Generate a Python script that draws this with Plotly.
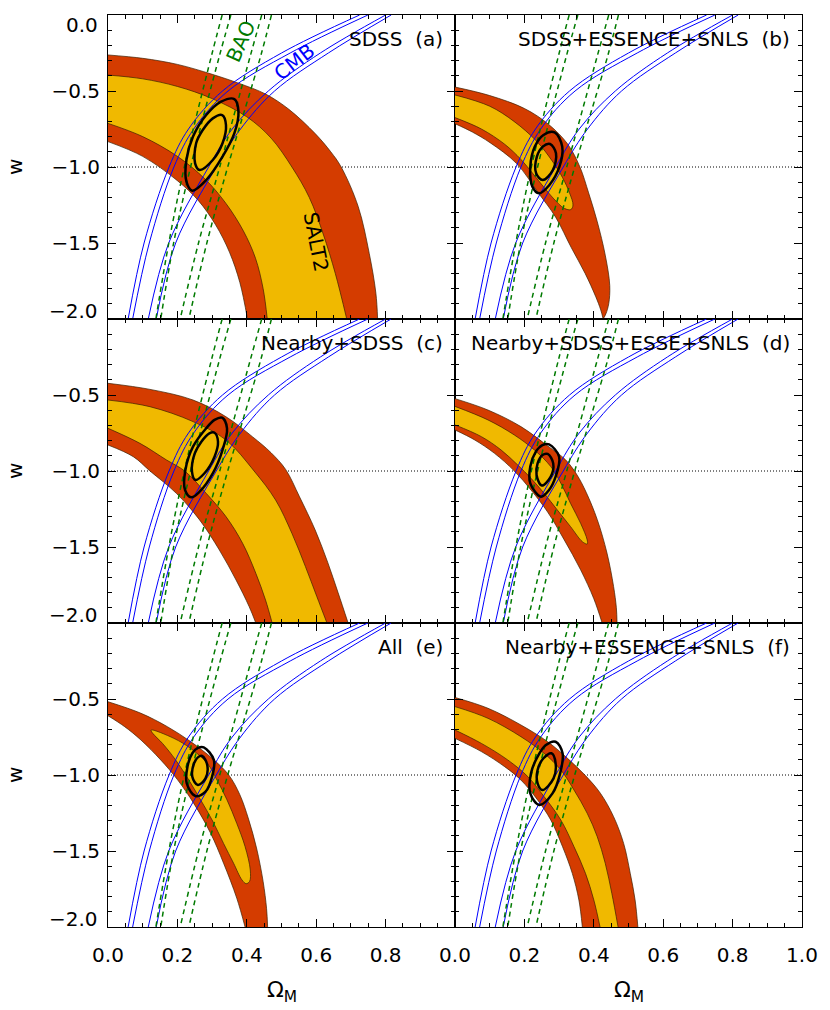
import plotly.graph_objects as go
from plotly.subplots import make_subplots

# colours and font
RED = '#d43c00'
YELLOW = '#f0b900'
EDGE = '#3c1e00'
CMB_COLOR = '#0000ff'
BAO_COLOR = '#007a00'
FONT = 'DejaVu Sans'

# ================================================================================
# CMB (blue) and BAO (green dashed) contour edges, identical in all panels
# points are (Omega_M, w)
CMB_1 = [(0.058, -2.00), (0.104, -1.50), (0.176, -1.00), (0.232, -0.75), (0.330, -0.50), (0.500, -0.25), (0.725, 0.00)]
CMB_2 = [(0.071, -2.00), (0.119, -1.50), (0.190, -1.00), (0.247, -0.75), (0.346, -0.50), (0.525, -0.25), (0.749, 0.00)]
CMB_3 = [(0.116, -2.00), (0.175, -1.50), (0.290, -1.00), (0.358, -0.75), (0.462, -0.50), (0.612, -0.25), (0.800, 0.00)]
CMB_4 = [(0.139, -2.00), (0.195, -1.50), (0.312, -1.00), (0.382, -0.75), (0.480, -0.50), (0.635, -0.25), (0.816, 0.00)]

BAO_1 = [(0.329, 0.00), (0.298, -0.27), (0.220, -1.00), (0.176, -1.49), (0.138, -2.00)]
BAO_2 = [(0.354, 0.00), (0.321, -0.27), (0.238, -1.00), (0.190, -1.49), (0.152, -2.00)]
BAO_3 = [(0.443, 0.00), (0.410, -0.27), (0.322, -1.00), (0.262, -1.49), (0.208, -2.00)]
BAO_4 = [(0.471, 0.00), (0.440, -0.27), (0.345, -1.00), (0.286, -1.49), (0.233, -2.00)]

# ================================================================================
# (a) SDSS
A_RED_HI = [(0.000, -0.263), (0.100, -0.285), (0.200, -0.325), (0.300, -0.390), (0.378, -0.450), (0.454, -0.520),
            (0.521, -0.620), (0.597, -0.780), (0.642, -0.900), (0.672, -1.000), (0.721, -1.260), (0.753, -1.570),
            (0.772, -1.830), (0.777, -2.000)]
A_RED_LO = [(0.000, -0.833), (0.100, -0.930), (0.200, -1.090), (0.260, -1.220), (0.310, -1.380), (0.350, -1.560),
            (0.380, -1.760), (0.402, -2.000)]
A_YEL_HI = [(0.000, -0.395), (0.100, -0.420), (0.200, -0.470), (0.300, -0.550), (0.400, -0.670), (0.470, -0.810),
            (0.530, -1.000), (0.580, -1.200), (0.620, -1.440), (0.655, -1.700), (0.688, -2.000)]
A_YEL_LO = [(0.000, -0.713), (0.100, -0.800), (0.200, -0.930), (0.280, -1.080), (0.340, -1.240), (0.390, -1.420),
            (0.425, -1.600), (0.447, -1.800), (0.459, -2.000)]
A_ELL_2S = [(0.364, -0.553), (0.376, -0.636), (0.364, -0.779), (0.330, -0.932), (0.283, -1.086), (0.243, -1.156),
            (0.226, -1.096), (0.226, -0.954), (0.245, -0.800), (0.283, -0.658), (0.326, -0.570)]
A_ELL_1S = [(0.329, -0.658), (0.340, -0.724), (0.330, -0.844), (0.302, -0.954), (0.264, -1.020), (0.251, -0.976),
            (0.254, -0.844), (0.273, -0.757), (0.302, -0.680)]

# (b) SDSS+ESSENCE+SNLS
B_RED_HI = [(0.000, -0.474), (0.100, -0.530), (0.200, -0.615), (0.270, -0.720), (0.325, -0.850), (0.360, -1.000),
            (0.385, -1.170), (0.410, -1.360), (0.433, -1.580), (0.446, -1.780), (0.443, -1.900), (0.435, -1.965),
            (0.427, -2.000)]
B_RED_LO = [(0.000, -0.715), (0.050, -0.770), (0.101, -0.840), (0.177, -0.976), (0.240, -1.170), (0.290, -1.330),
            (0.335, -1.530), (0.375, -1.700), (0.405, -1.850), (0.420, -1.940), (0.427, -2.000)]
B_YEL = [(0.000, -0.526), (0.100, -0.600), (0.170, -0.700), (0.235, -0.830), (0.280, -0.960), (0.310, -1.070),
         (0.330, -1.170), (0.340, -1.250), (0.334, -1.280), (0.315, -1.272), (0.285, -1.210), (0.255, -1.130),
         (0.225, -1.045), (0.190, -0.950), (0.143, -0.850), (0.076, -0.750), (0.000, -0.675)]
B_ELL_2S = [(0.287, -0.772), (0.309, -0.866), (0.301, -0.998), (0.272, -1.118), (0.242, -1.173), (0.223, -1.129),
            (0.217, -0.998), (0.230, -0.866), (0.255, -0.789)]
B_ELL_1S = [(0.274, -0.849), (0.291, -0.910), (0.282, -1.020), (0.253, -1.086), (0.234, -1.042), (0.236, -0.932),
            (0.253, -0.866)]

# (c) Nearby+SDSS
C_RED_HI = [(0.000, -0.423), (0.121, -0.463), (0.245, -0.533), (0.340, -0.643), (0.416, -0.774), (0.470, -0.880),
            (0.512, -0.990), (0.552, -1.170), (0.597, -1.388), (0.633, -1.600), (0.663, -1.800), (0.692, -2.000)]
C_RED_LO = [(0.000, -0.829), (0.073, -0.906), (0.121, -1.000), (0.197, -1.147), (0.264, -1.322), (0.321, -1.520),
            (0.369, -1.717), (0.407, -1.893), (0.426, -2.000)]
C_YEL_HI = [(0.000, -0.533), (0.121, -0.577), (0.245, -0.675), (0.340, -0.796), (0.421, -1.000), (0.483, -1.191),
            (0.530, -1.410), (0.569, -1.629), (0.602, -1.827), (0.631, -2.000)]
C_YEL_LO = [(0.000, -0.719), (0.092, -0.818), (0.169, -0.928), (0.221, -1.000), (0.283, -1.147), (0.340, -1.300),
            (0.388, -1.476), (0.426, -1.673), (0.454, -1.849), (0.473, -2.000)]
C_ELL_2S = [(0.329, -0.649), (0.343, -0.719), (0.330, -0.862), (0.302, -1.015), (0.264, -1.136), (0.240, -1.173),
            (0.222, -1.125), (0.223, -0.993), (0.245, -0.840), (0.283, -0.719), (0.307, -0.664)]
C_ELL_1S = [(0.307, -0.748), (0.317, -0.807), (0.307, -0.906), (0.278, -1.015), (0.252, -1.059), (0.242, -1.004),
            (0.250, -0.884), (0.269, -0.807), (0.292, -0.752)]

# (d) Nearby+SDSS+ESSE+SNLS
D_RED_HI = [(0.000, -0.524), (0.095, -0.599), (0.190, -0.708), (0.267, -0.835), (0.318, -0.925), (0.350, -1.020),
            (0.378, -1.140), (0.410, -1.320), (0.438, -1.540), (0.457, -1.760), (0.465, -1.900), (0.467, -2.000)]
D_RED_LO = [(0.000, -0.730), (0.057, -0.796), (0.114, -0.884), (0.171, -1.000), (0.219, -1.125), (0.267, -1.270),
            (0.314, -1.450), (0.362, -1.650), (0.400, -1.840), (0.424, -2.000)]
D_YEL = [(0.000, -0.575), (0.095, -0.664), (0.171, -0.763), (0.229, -0.862), (0.276, -0.971), (0.305, -1.080),
         (0.333, -1.213), (0.362, -1.344), (0.381, -1.454), (0.381, -1.480), (0.367, -1.465), (0.333, -1.366),
         (0.295, -1.257), (0.257, -1.147), (0.219, -1.048), (0.181, -0.961), (0.133, -0.862), (0.076, -0.774),
         (0.000, -0.697)]
D_ELL_2S = [(0.271, -0.825), (0.300, -0.906), (0.290, -1.037), (0.271, -1.125), (0.248, -1.169), (0.217, -1.081),
            (0.217, -0.971), (0.233, -0.873), (0.252, -0.829)]
D_ELL_1S = [(0.267, -0.888), (0.283, -0.950), (0.276, -1.037), (0.250, -1.096), (0.235, -1.026), (0.238, -0.950),
            (0.252, -0.895)]

# (e) All
E_RED_HI = [(0.000, -0.518), (0.095, -0.594), (0.171, -0.682), (0.238, -0.780), (0.300, -0.890), (0.348, -1.000),
            (0.380, -1.130), (0.405, -1.290), (0.428, -1.480), (0.447, -1.700), (0.457, -1.880), (0.460, -2.000)]
E_RED_LO = [(0.000, -0.610), (0.048, -0.682), (0.095, -0.770), (0.152, -0.901), (0.200, -1.030), (0.248, -1.190),
            (0.295, -1.380), (0.333, -1.580), (0.371, -1.810), (0.395, -2.000)]
E_YEL = [(0.124, -0.704), (0.190, -0.759), (0.238, -0.825), (0.286, -0.923), (0.314, -1.033), (0.343, -1.164),
         (0.371, -1.318), (0.395, -1.471), (0.410, -1.625), (0.408, -1.700), (0.398, -1.715), (0.386, -1.690),
         (0.362, -1.581), (0.333, -1.450), (0.300, -1.296), (0.267, -1.164), (0.233, -1.033), (0.195, -0.901),
         (0.157, -0.792), (0.129, -0.726), (0.124, -0.704)]
E_ELL_2S = [(0.276, -0.818), (0.305, -0.901), (0.300, -1.011), (0.281, -1.110), (0.252, -1.138), (0.227, -1.055),
            (0.229, -0.945), (0.243, -0.857), (0.259, -0.822)]
E_ELL_1S = [(0.271, -0.875), (0.286, -0.934), (0.281, -1.022), (0.259, -1.066), (0.243, -1.011), (0.248, -0.923),
            (0.259, -0.884)]

# (f) Nearby+ESSENCE+SNLS
F_RED_HI = [(0.000, -0.490), (0.095, -0.561), (0.190, -0.671), (0.267, -0.781), (0.324, -0.890), (0.376, -1.004),
            (0.419, -1.120), (0.457, -1.274), (0.486, -1.450), (0.505, -1.647), (0.519, -1.822), (0.527, -2.000)]
F_RED_LO = [(0.000, -0.759), (0.076, -0.846), (0.143, -0.945), (0.190, -1.033), (0.238, -1.164), (0.276, -1.296),
            (0.310, -1.472), (0.338, -1.647), (0.357, -1.822), (0.367, -2.000)]
F_YEL_HI = [(0.000, -0.550), (0.095, -0.627), (0.190, -0.748), (0.257, -0.858), (0.305, -0.967), (0.343, -1.099),
            (0.381, -1.252), (0.410, -1.406), (0.433, -1.581), (0.452, -1.779), (0.470, -2.000)]
F_YEL_LO = [(0.000, -0.704), (0.076, -0.792), (0.152, -0.901), (0.210, -1.011), (0.257, -1.143), (0.305, -1.296),
            (0.343, -1.472), (0.376, -1.647), (0.400, -1.822), (0.418, -2.000)]
F_ELL_2S = [(0.290, -0.781), (0.310, -0.857), (0.303, -0.989), (0.281, -1.121), (0.243, -1.197), (0.217, -1.121),
            (0.219, -0.989), (0.238, -0.879), (0.262, -0.803)]
F_ELL_1S = [(0.278, -0.857), (0.290, -0.923), (0.284, -1.022), (0.252, -1.099), (0.238, -1.055), (0.238, -0.967),
            (0.255, -0.890)]

# panel layout: row, col, sample name, letter, red band, yellow region, ellipses
PANELS = [
    (1, 1, 'SDSS', 'a', (A_RED_HI, A_RED_LO), (A_YEL_HI, A_YEL_LO), (A_ELL_2S, A_ELL_1S)),
    (1, 2, 'SDSS+ESSENCE+SNLS', 'b', (B_RED_HI, B_RED_LO), B_YEL, (B_ELL_2S, B_ELL_1S)),
    (2, 1, 'Nearby+SDSS', 'c', (C_RED_HI, C_RED_LO), (C_YEL_HI, C_YEL_LO), (C_ELL_2S, C_ELL_1S)),
    (2, 2, 'Nearby+SDSS+ESSE+SNLS', 'd', (D_RED_HI, D_RED_LO), D_YEL, (D_ELL_2S, D_ELL_1S)),
    (3, 1, 'All', 'e', (E_RED_HI, E_RED_LO), E_YEL, (E_ELL_2S, E_ELL_1S)),
    (3, 2, 'Nearby+ESSENCE+SNLS', 'f', (F_RED_HI, F_RED_LO), (F_YEL_HI, F_YEL_LO), (F_ELL_2S, F_ELL_1S)),
]

X_TICKS = [0.0, 0.2, 0.4, 0.6, 0.8, 1.0]
Y_TICKS = [-2.0, -1.5, -1.0, -0.5, 0.0]


# ================================================================================
def add_curve(fig, pts, row, col, color, width, dash=None, fill=None, fillcolor=None):
    fig.add_scatter(x=[p[0] for p in pts], y=[p[1] for p in pts], mode='lines',
                    line=dict(color=color, width=width, dash=dash, shape='spline', smoothing=1),
                    fill=fill, fillcolor=fillcolor, hoverinfo='skip', showlegend=False,
                    row=row, col=col)


def add_region(fig, region, color, row, col):
    # a (upper, lower) pair is filled between the two edges, a single list is filled on itself
    if isinstance(region, tuple):
        hi, lo = region
        add_curve(fig, lo, row, col, EDGE, 0.7)
        add_curve(fig, hi, row, col, EDGE, 0.7, fill='tonexty', fillcolor=color)
    else:
        add_curve(fig, region, row, col, EDGE, 0.7, fill='toself', fillcolor=color)


fig = make_subplots(rows=3, cols=2, horizontal_spacing=0, vertical_spacing=0)

for row, col, name, letter, red, yellow, ells in PANELS:
    add_region(fig, red, RED, row, col)
    add_region(fig, yellow, YELLOW, row, col)

    fig.add_hline(y=-1.0, line=dict(color='black', width=1, dash='1px,2px'), layer='below', row=row, col=col)

    for cmb in (CMB_1, CMB_2, CMB_3, CMB_4):
        add_curve(fig, cmb, row, col, CMB_COLOR, 1)
    for bao in (BAO_1, BAO_2, BAO_3, BAO_4):
        add_curve(fig, bao, row, col, BAO_COLOR, 1.5, dash='5px,4px')
    for ell in ells:
        add_curve(fig, ell + ell[:1], row, col, 'black', 2.5)

    fig.add_annotation(x=0.971, y=-0.16, text=f'{name}\u00a0\u00a0({letter})', showarrow=False,
                       xanchor='right', yanchor='middle', font=dict(size=20, color='black'),
                       row=row, col=col)

# contour names in panel (a)
fig.add_annotation(x=0.383, y=-0.17, text='BAO', textangle=-66, showarrow=False,
                   font=dict(size=20, color=BAO_COLOR), row=1, col=1)
fig.add_annotation(x=0.537, y=-0.31, text='CMB', textangle=-38, showarrow=False,
                   font=dict(size=20, color=CMB_COLOR), row=1, col=1)
fig.add_annotation(x=0.598, y=-1.49, text='SALT2', textangle=79, showarrow=False,
                   font=dict(size=20, color='black'), row=1, col=1)

# axes
fig.update_xaxes(range=[0, 1], showgrid=False, zeroline=False, showline=True, linecolor='black', linewidth=1,
                 mirror='allticks', ticks='inside', ticklen=8, tickwidth=1, tickcolor='black',
                 tickvals=X_TICKS, ticktext=[f'{v:.1f}' for v in X_TICKS], showticklabels=False,
                 ticklabelstandoff=10, tickfont=dict(size=20, color='black'),
                 minor=dict(ticks='inside', ticklen=4, tickcolor='black', tickmode='linear', tick0=0, dtick=0.05))
fig.update_yaxes(range=[-2, 0], showgrid=False, zeroline=False, showline=True, linecolor='black', linewidth=1,
                 mirror='allticks', ticks='inside', ticklen=8, tickwidth=1, tickcolor='black',
                 tickvals=Y_TICKS, ticktext=['' if v in (-2.0, 0.0) else f'{v:.1f}'.replace('-', '\u2212') for v in Y_TICKS],
                 showticklabels=False, ticklabelstandoff=3, tickfont=dict(size=20, color='black'),
                 minor=dict(ticks='inside', ticklen=4, tickcolor='black', tickmode='linear', tick0=0, dtick=0.1))
fig.update_yaxes(showticklabels=True, col=1)
fig.update_xaxes(showticklabels=True, row=3)
fig.update_xaxes(ticktext=[f'{v:.1f}' for v in X_TICKS[:-1]] + [''], row=3, col=1)

# end labels of the w axis sit slightly inside the frame
for row in (1, 2, 3):
    yref = 'y' if row == 1 else f'y{(row - 1) * 2 + 1}'
    fig.add_annotation(xref='paper', yref=yref, x=0, y=-2.0, yshift=8, xshift=-8, text='\u22122.0',
                       xanchor='right', yanchor='middle', showarrow=False, font=dict(size=20, color='black'))
    fig.add_annotation(xref='paper', yref='paper', x=-0.134, y=(3 - row + 0.5) / 3, text='w', textangle=-90,
                       xanchor='center', yanchor='middle', showarrow=False, font=dict(size=20, color='black'))
fig.add_annotation(xref='paper', yref='y', x=0, y=0.0, yshift=-10, xshift=-8, text='0.0',
                   xanchor='right', yanchor='middle', showarrow=False, font=dict(size=20, color='black'))

for x in (0.25, 0.75):
    fig.add_annotation(xref='paper', yref='paper', x=x, y=-0.071, text='\u03a9<sub>M</sub>', showarrow=False,
                       xanchor='center', yanchor='middle', font=dict(size=22, color='black'))

fig.update_layout(width=830, height=1010, margin=dict(l=108, r=22, t=15, b=83),
                  plot_bgcolor='white', paper_bgcolor='white', showlegend=False,
                  font=dict(family=FONT, color='black'))

# drop the default body margin so the figure fills the window exactly
fig.write_html("out.html", config={'displayModeBar': False},
               post_script="document.body.style.margin = '0'; document.body.style.overflow = 'hidden';")
